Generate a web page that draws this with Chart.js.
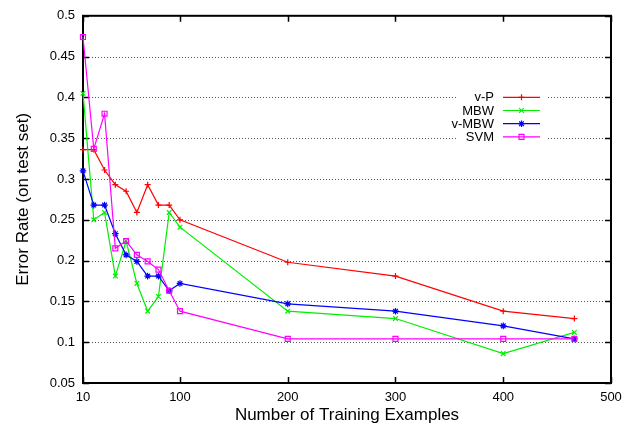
<!DOCTYPE html>
<html>
<head>
<meta charset="utf-8">
<script src="https://cdn.jsdelivr.net/npm/chart.js@4/dist/chart.umd.min.js"></script>
<style>
  html, body { margin: 0; padding: 0; background: #ffffff; }
  #wrap { width: 642px; height: 430px; position: relative; }
</style>
</head>
<body>
<div id="wrap"><canvas id="c" width="642" height="430"></canvas></div>
<script>
// ---- data ----
const xValues = [10, 20, 30, 40, 50, 60, 70, 80, 90, 100, 200, 300, 400, 466];
const vP   = [0.336, 0.336, 0.311, 0.293, 0.285, 0.259, 0.293, 0.268, 0.268, 0.250, 0.198, 0.181, 0.138, 0.129];
const mbw  = [0.405, 0.250, 0.259, 0.181, 0.224, 0.172, 0.138, 0.156, 0.259, 0.241, 0.138, 0.129, 0.086, 0.112];
const vMbw = [0.310, 0.268, 0.268, 0.233, 0.207, 0.199, 0.181, 0.181, 0.163, 0.172, 0.147, 0.138, 0.120, 0.104];
const svm  = [0.474, 0.337, 0.380, 0.215, 0.224, 0.207, 0.199, 0.189, 0.163, 0.138, 0.104, 0.104, 0.104, 0.104];
const seriesNames = ['v-P', 'MBW', 'v-MBW', 'SVM'];
const xTicks = [10, 100, 200, 300, 400, 500];
const yTicks = [0.05, 0.1, 0.15, 0.2, 0.25, 0.3, 0.35, 0.4, 0.45, 0.5];
const xTitle = 'Number of Training Examples';
const yTitle = 'Error Rate (on test set)';

const FONT = '"Liberation Sans", Arial, Helvetica, sans-serif';
const colors = ['#ff0000', '#00ee00', '#0000ff', '#ff00ff'];
const styles = ['cross', 'crossRot', 'star', 'rect'];
const radii = [3, 3.3, 3.3, 3.5];
const allSeries = [vP, mbw, vMbw, svm];

const datasets = allSeries.map((arr, i) => ({
  label: seriesNames[i],
  data: xValues.map((x, j) => ({ x: x, y: arr[j] })),
  borderColor: colors[i],
  backgroundColor: 'rgba(0,0,0,0)',
  pointBorderColor: colors[i],
  pointBackgroundColor: 'rgba(0,0,0,0)',
  pointStyle: styles[i],
  pointRadius: radii[i],
  pointBorderWidth: 1.2,
  borderWidth: 1.2,
  tension: 0,
  clip: false,
  order: 4 - i
}));

const frame = {
  id: 'frame',
  beforeDatasetsDraw(chart) {
    const ctx = chart.ctx;
    const a = chart.chartArea;
    const xs = chart.scales.x, ys = chart.scales.y;
    ctx.save();
    // dotted horizontal grid lines
    ctx.strokeStyle = '#555555';
    ctx.lineWidth = 1;
    ctx.setLineDash([1, 2]);
    yTicks.forEach(v => {
      if (v === yTicks[0] || v === yTicks[yTicks.length - 1]) return;
      const y = Math.round(ys.getPixelForValue(v)) + 0.5;
      ctx.beginPath();
      ctx.moveTo(a.left + 6, y);
      ctx.lineTo(a.right - 6, y);
      ctx.stroke();
    });
    ctx.setLineDash([]);
    // legend box clears the grid
    ctx.fillStyle = '#ffffff';
    ctx.fillRect(a.right - 154, a.top + 74, 90, 56);
    // ticks inward on all four sides
    ctx.strokeStyle = '#000000';
    ctx.lineWidth = 1.5;
    yTicks.forEach(v => {
      const y = Math.round(ys.getPixelForValue(v)) + 0.5;
      ctx.beginPath();
      ctx.moveTo(a.left, y); ctx.lineTo(a.left + 6, y);
      ctx.moveTo(a.right, y); ctx.lineTo(a.right - 6, y);
      ctx.stroke();
    });
    xTicks.forEach(v => {
      const x = Math.round(xs.getPixelForValue(v)) + 0.5;
      ctx.beginPath();
      ctx.moveTo(x, a.bottom); ctx.lineTo(x, a.bottom - 6);
      ctx.moveTo(x, a.top); ctx.lineTo(x, a.top + 6);
      ctx.stroke();
    });
    // border
    ctx.lineWidth = 2;
    ctx.strokeRect(a.left, a.top, a.right - a.left, a.bottom - a.top);
    // axis titles
    ctx.fillStyle = '#000000';
    ctx.font = '17px ' + FONT;
    ctx.textAlign = 'center';
    ctx.textBaseline = 'middle';
    ctx.fillText(xTitle, (a.left + a.right) / 2, a.bottom + 32);
    ctx.translate(23.5, (a.top + a.bottom) / 2);
    ctx.rotate(-Math.PI / 2);
    ctx.fillText(yTitle, 0, 0);
    ctx.restore();
  },
  afterDatasetsDraw(chart) {
    const ctx = chart.ctx;
    const a = chart.chartArea;
    ctx.save();
    const textRight = a.right - 117;
    const lx0 = a.right - 108, lx1 = a.right - 71;
    const y0 = a.top + 81.5;
    ctx.font = '13px ' + FONT;
    ctx.textAlign = 'right';
    ctx.textBaseline = 'middle';
    chart.data.datasets.forEach((ds, i) => {
      const y = y0 + i * 13.2;
      ctx.fillStyle = '#000000';
      ctx.fillText(ds.label, textRight, y + 0.5);
      ctx.strokeStyle = ds.borderColor;
      ctx.lineWidth = 1.2;
      ctx.beginPath();
      ctx.moveTo(lx0, y); ctx.lineTo(lx1, y);
      ctx.stroke();
      ctx.fillStyle = 'rgba(0,0,0,0)';
      ctx.lineWidth = 1.2;
      Chart.helpers.drawPoint(ctx, {
        pointStyle: ds.pointStyle, radius: ds.pointRadius, rotation: 0, borderWidth: 1.2
      }, (lx0 + lx1) / 2, y);
    });
    ctx.restore();
  }
};

new Chart(document.getElementById('c'), {
  type: 'line',
  data: { datasets: datasets },
  options: {
    responsive: false,
    animation: false,
    devicePixelRatio: 1,
    layout: { padding: { top: 14, right: 31, left: 0, bottom: 0 } },
    plugins: { legend: { display: false }, tooltip: { enabled: false }, title: { display: false } },
    scales: {
      x: {
        type: 'linear', min: 10, max: 500,
        afterBuildTicks: s => { s.ticks = xTicks.map(v => ({ value: v })); },
        afterFit: s => { s.height = 47; },
        grid: { display: false, drawTicks: false },
        border: { display: false },
        ticks: { padding: 7, color: '#000', font: { family: FONT, size: 13 }, maxRotation: 0, autoSkip: false,
                 callback: v => String(v) }
      },
      y: {
        type: 'linear', min: 0.05, max: 0.5,
        afterBuildTicks: s => { s.ticks = yTicks.map(v => ({ value: v })); },
        afterFit: s => { s.width = 83; },
        grid: { display: false, drawTicks: false },
        border: { display: false },
        ticks: { padding: 8, color: '#000', font: { family: FONT, size: 13 }, autoSkip: false,
                 callback: v => String(Math.round(v * 100) / 100) }
      }
    }
  },
  plugins: [frame]
});
</script>
</body>
</html>
